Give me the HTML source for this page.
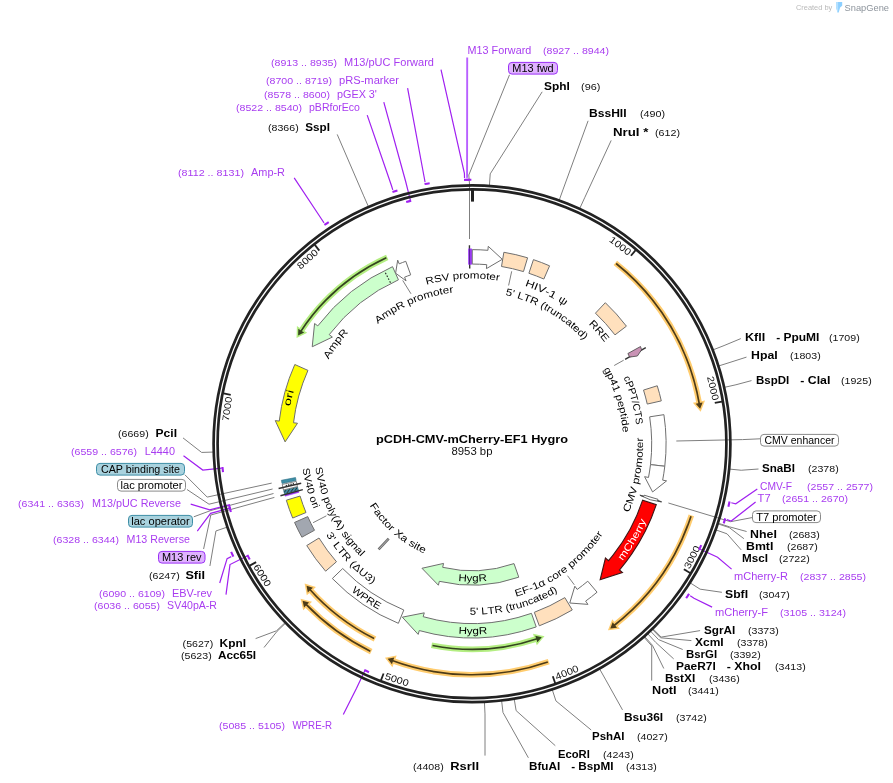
<!DOCTYPE html>
<html><head><meta charset="utf-8"><title>pCDH-CMV-mCherry-EF1 Hygro</title>
<style>
html,body{margin:0;padding:0;background:#fff;}
svg{display:block;font-family:"Liberation Sans",sans-serif;}
</style></head><body>
<svg width="893" height="783" viewBox="0 0 893 783">
<rect width="893" height="783" fill="#fff"/>
<g opacity="0.999">
<polyline points="509.5,74.8 468.8,175 469.5,184 469.5,239" fill="none" stroke="#7f7f7f" stroke-width="1" />
<polyline points="760,438.8 742.5,439.6 676.3,441" fill="none" stroke="#7f7f7f" stroke-width="1" />
<polyline points="752,517.6 730.5,521.7 668.4,503" fill="none" stroke="#7f7f7f" stroke-width="1" />
<polyline points="184.8,474.7 207.2,497.1 271.7,483.1" fill="none" stroke="#7f7f7f" stroke-width="1" />
<polyline points="187,489.5 209,504.2 272.6,489" fill="none" stroke="#7f7f7f" stroke-width="1" />
<polyline points="193.8,516.8 210.8,510.5 273.5,493.5" fill="none" stroke="#7f7f7f" stroke-width="1" />
<polyline points="203.6,549 210.8,515 274.4,497.4" fill="none" stroke="#7f7f7f" stroke-width="1" />
<polyline points="542.2,91.8 490.21,173.86 489.4,185.84" fill="none" stroke="#7f7f7f" stroke-width="1" />
<polyline points="588.1,120.8 563.2,189.09 559.15,200.38" fill="none" stroke="#7f7f7f" stroke-width="1" />
<polyline points="611.2,140.4 584.64,197.82 579.64,208.73" fill="none" stroke="#7f7f7f" stroke-width="1" />
<polyline points="740.8,338.6 724.05,345.57 712.87,349.93" fill="none" stroke="#7f7f7f" stroke-width="1" />
<polyline points="746.5,357.1 729.98,362.4 718.53,366.01" fill="none" stroke="#7f7f7f" stroke-width="1" />
<polyline points="751.5,380.6 735.99,384.76 724.28,387.38" fill="none" stroke="#7f7f7f" stroke-width="1" />
<polyline points="758.5,469 741.2,470.24 729.26,469.06" fill="none" stroke="#7f7f7f" stroke-width="1" />
<polyline points="746.6,531.5 729.43,526.82 718.01,523.13" fill="none" stroke="#7f7f7f" stroke-width="1" />
<polyline points="743.9,538.7 729.2,527.54 717.79,523.82" fill="none" stroke="#7f7f7f" stroke-width="1" />
<polyline points="741.2,549.9 727.06,533.83 715.75,529.83" fill="none" stroke="#7f7f7f" stroke-width="1" />
<polyline points="721.9,592.3 700.09,589.17 689.97,582.72" fill="none" stroke="#7f7f7f" stroke-width="1" />
<polyline points="700.1,630.6 661.16,637.11 652.77,628.53" fill="none" stroke="#7f7f7f" stroke-width="1" />
<polyline points="691.4,640.6 660.48,637.77 652.12,629.16" fill="none" stroke="#7f7f7f" stroke-width="1" />
<polyline points="682.7,649.5 658.57,639.61 650.29,630.92" fill="none" stroke="#7f7f7f" stroke-width="1" />
<polyline points="673.7,658.9 655.66,642.34 647.51,633.53" fill="none" stroke="#7f7f7f" stroke-width="1" />
<polyline points="663.8,668.5 652.43,645.28 644.43,636.34" fill="none" stroke="#7f7f7f" stroke-width="1" />
<polyline points="651.7,680.6 651.72,645.91 643.75,636.94" fill="none" stroke="#7f7f7f" stroke-width="1" />
<polyline points="622.5,709.9 605.34,679.1 599.43,668.66" fill="none" stroke="#7f7f7f" stroke-width="1" />
<polyline points="591.2,730 555.92,700.9 552.2,689.49" fill="none" stroke="#7f7f7f" stroke-width="1" />
<polyline points="555.3,745.7 516.13,710.63 514.17,698.79" fill="none" stroke="#7f7f7f" stroke-width="1" />
<polyline points="528.4,757.8 502.97,712.47 501.6,700.55" fill="none" stroke="#7f7f7f" stroke-width="1" />
<polyline points="485,755.6 485,713.94 484.42,701.95" fill="none" stroke="#7f7f7f" stroke-width="1" />
<polyline points="264,647.5 277.09,631.31 285.74,622.99" fill="none" stroke="#7f7f7f" stroke-width="1" />
<polyline points="255.6,638.6 276.56,630.76 285.23,622.47" fill="none" stroke="#7f7f7f" stroke-width="1" />
<polyline points="209.9,566 215.94,530.96 227.3,527.09" fill="none" stroke="#7f7f7f" stroke-width="1" />
<polyline points="183,437.9 201.64,452.43 213.63,452.05" fill="none" stroke="#7f7f7f" stroke-width="1" />
<polyline points="337.2,134.4 363.69,195.88 368.5,206.88" fill="none" stroke="#7f7f7f" stroke-width="1" />
<polyline points="441,69.7 464.41,173.36 464.54,177.95" fill="none" stroke="#a020f0" stroke-width="1.2" />
<polyline points="467.2,57.5 467.06,173.3 467.15,177.89" fill="none" stroke="#b860ff" stroke-width="1.9" />
<polyline points="757.3,489 735.76,503.76 731.27,502.74" fill="none" stroke="#a020f0" stroke-width="1.2" />
<polyline points="755.6,502 731.23,521.01 726.82,519.7" fill="none" stroke="#a020f0" stroke-width="1.2" />
<polyline points="731.6,569.1 717.55,557.21 700.22,549.2" fill="none" stroke="#a020f0" stroke-width="1.2" />
<polyline points="712.1,607.1 693.98,598.33 690.21,595.7" fill="none" stroke="#a020f0" stroke-width="1.2" />
<polyline points="343.3,714.4 356.52,688.36 364.67,671.09" fill="none" stroke="#a020f0" stroke-width="1.2" />
<polyline points="226,594.7 229.98,564.57 247.07,556.04" fill="none" stroke="#a020f0" stroke-width="1.2" />
<polyline points="219.7,583 227.09,558.59 231.25,556.63" fill="none" stroke="#a020f0" stroke-width="1.2" />
<polyline points="197.3,531.1 210.6,513.34 229.06,508.43" fill="none" stroke="#a020f0" stroke-width="1.2" />
<polyline points="190.7,504.2 209.7,509.85 228.22,505.18" fill="none" stroke="#a020f0" stroke-width="1.2" />
<polyline points="183.5,455.8 202.78,470.05 221.79,468.19" fill="none" stroke="#a020f0" stroke-width="1.2" />
<polyline points="294.2,177.8 321.46,219.01 324.02,222.83" fill="none" stroke="#a020f0" stroke-width="1.2" />
<polyline points="367.2,115.1 391.42,185.53 392.79,189.92" fill="none" stroke="#a020f0" stroke-width="1.2" />
<polyline points="383.8,102.1 405.67,181.51 410.35,200.03" fill="none" stroke="#a020f0" stroke-width="1.2" />
<polyline points="407.6,88.2 424.22,177.5 425.04,182.03" fill="none" stroke="#a020f0" stroke-width="1.2" />
<circle cx="472" cy="443.75" r="258.4" fill="none" stroke="#222" stroke-width="2.7"/>
<circle cx="472" cy="443.75" r="254.4" fill="none" stroke="#222" stroke-width="2.7"/>
<line x1="472.5" y1="189" x2="472.5" y2="201.6" stroke="#222" stroke-width="3"/>
<polyline points="635.66,250.16 630.94,255.73" fill="none" stroke="#222" stroke-width="1.8" />
<text transform="translate(618.29,248.47) rotate(36.84) scale(1.15,1)" font-size="9.6" text-anchor="middle" fill="#111">1000</text>
<polyline points="721.96,401.56 714.77,402.78" fill="none" stroke="#222" stroke-width="1.8" />
<text transform="translate(709.79,389.06) rotate(77.05) scale(1.15,1)" font-size="9.6" text-anchor="middle" fill="#111">2000</text>
<polyline points="690.13,572.91 683.85,569.19" fill="none" stroke="#222" stroke-width="1.8" />
<text transform="translate(695.04,558.66) rotate(297.26) scale(1.15,1)" font-size="9.6" text-anchor="middle" fill="#111">3000</text>
<polyline points="555.2,683.21 552.8,676.31" fill="none" stroke="#222" stroke-width="1.8" />
<text transform="translate(568.15,675.5) rotate(337.47) scale(1.15,1)" font-size="9.6" text-anchor="middle" fill="#111">4000</text>
<polyline points="380.95,680.33 383.57,673.52" fill="none" stroke="#222" stroke-width="1.8" />
<text transform="translate(395.81,682.8) rotate(377.68) scale(1.15,1)" font-size="9.6" text-anchor="middle" fill="#111">5000</text>
<polyline points="249.73,565.64 256.13,562.13" fill="none" stroke="#222" stroke-width="1.8" />
<text transform="translate(259.49,577.12) rotate(417.89) scale(1.15,1)" font-size="9.6" text-anchor="middle" fill="#111">6000</text>
<polyline points="223.56,393.34 230.72,394.79" fill="none" stroke="#222" stroke-width="1.8" />
<text transform="translate(230.43,409.38) rotate(278.1) scale(1.15,1)" font-size="9.6" text-anchor="middle" fill="#111">7000</text>
<polyline points="314.82,244.86 319.34,250.59" fill="none" stroke="#222" stroke-width="1.8" />
<text transform="translate(309.71,261.55) rotate(318.31) scale(1.15,1)" font-size="9.6" text-anchor="middle" fill="#111">8000</text>
<path d="M464.03,179.87 A264,264 0 0 1 469.23,179.76" fill="none" stroke="#a020f0" stroke-width="2.1"/>
<path d="M466.16,179.81 A264,264 0 0 1 471.36,179.75" fill="none" stroke="#a020f0" stroke-width="2.1"/>
<path d="M729.59,501.59 A264,264 0 0 1 728.4,506.65" fill="none" stroke="#a020f0" stroke-width="2.1"/>
<path d="M725.24,518.35 A264,264 0 0 1 723.72,523.33" fill="none" stroke="#a020f0" stroke-width="2.1"/>
<path d="M701.21,545.05 A250.6,250.6 0 0 1 699.06,549.79" fill="none" stroke="#a020f0" stroke-width="2.1"/>
<path d="M689.13,593.93 A264,264 0 0 1 686.13,598.17" fill="none" stroke="#a020f0" stroke-width="2.1"/>
<path d="M368.97,672.19 A250.6,250.6 0 0 1 364.25,670.01" fill="none" stroke="#a020f0" stroke-width="2.1"/>
<path d="M249.73,559.48 A250.6,250.6 0 0 1 247.37,554.85" fill="none" stroke="#a020f0" stroke-width="2.1"/>
<path d="M233.33,556.59 A264,264 0 0 1 231.15,551.86" fill="none" stroke="#a020f0" stroke-width="2.1"/>
<path d="M230.9,512.08 A250.6,250.6 0 0 1 229.53,507.07" fill="none" stroke="#a020f0" stroke-width="2.1"/>
<path d="M230.14,509.37 A250.6,250.6 0 0 1 228.84,504.34" fill="none" stroke="#a020f0" stroke-width="2.1"/>
<path d="M223.02,472.19 A250.6,250.6 0 0 1 222.48,467.01" fill="none" stroke="#a020f0" stroke-width="2.1"/>
<path d="M324.38,224.88 A264,264 0 0 1 328.72,222.02" fill="none" stroke="#a020f0" stroke-width="2.1"/>
<path d="M392.47,192.01 A264,264 0 0 1 397.44,190.5" fill="none" stroke="#a020f0" stroke-width="2.1"/>
<path d="M406.17,201.95 A250.6,250.6 0 0 1 411.2,200.64" fill="none" stroke="#a020f0" stroke-width="2.1"/>
<path d="M424.55,184.05 A264,264 0 0 1 429.67,183.17" fill="none" stroke="#a020f0" stroke-width="2.1"/>
<path d="M615.34,262.86 A230.8,230.8 0 0 1 699.19,403.11" fill="none" stroke="#ffcc6e" stroke-width="5.7"/>
<path d="M700.14,408.83 L702.64,402.49 L699.19,403.11 L695.75,403.72 Z" fill="#ffcc6e" stroke="#ffcc6e" stroke-width="3.0" stroke-linejoin="miter"/>
<path d="M616.12,263.48 A230.8,230.8 0 0 1 699.49,404.82" fill="none" stroke="#4d3b17" stroke-width="1.7"/>
<path d="M700.14,408.83 L702.64,402.49 L699.19,403.11 L695.75,403.72 Z" fill="#4d3b17" stroke="none"/>
<path d="M691.31,515.34 A230.7,230.7 0 0 1 614.86,624.9" fill="none" stroke="#ffcc6e" stroke-width="5.7"/>
<path d="M610.26,628.43 L617.02,627.65 L614.86,624.9 L612.69,622.15 Z" fill="#ffcc6e" stroke="#ffcc6e" stroke-width="3.0" stroke-linejoin="miter"/>
<path d="M691,516.29 A230.7,230.7 0 0 1 613.49,625.97" fill="none" stroke="#4d3b17" stroke-width="1.7"/>
<path d="M610.26,628.43 L617.02,627.65 L614.86,624.9 L612.69,622.15 Z" fill="#4d3b17" stroke="none"/>
<path d="M548.76,661.62 A231,231 0 0 1 393.12,660.87" fill="none" stroke="#ffcc6e" stroke-width="5.7"/>
<path d="M387.69,658.82 L391.93,664.15 L393.12,660.87 L394.32,657.58 Z" fill="#ffcc6e" stroke="#ffcc6e" stroke-width="3.0" stroke-linejoin="miter"/>
<path d="M547.82,661.95 A231,231 0 0 1 391.49,660.26" fill="none" stroke="#4d3b17" stroke-width="1.7"/>
<path d="M387.69,658.82 L391.93,664.15 L393.12,660.87 L394.32,657.58 Z" fill="#4d3b17" stroke="none"/>
<path d="M371.21,651.6 A231,231 0 0 1 306.56,604.97" fill="none" stroke="#ffcc6e" stroke-width="5.7"/>
<path d="M302.56,600.76 L304.05,607.41 L306.56,604.97 L309.07,602.52 Z" fill="#ffcc6e" stroke="#ffcc6e" stroke-width="3.0" stroke-linejoin="miter"/>
<path d="M370.31,651.17 A231,231 0 0 1 305.35,603.71" fill="none" stroke="#4d3b17" stroke-width="1.7"/>
<path d="M302.56,600.76 L304.05,607.41 L306.56,604.97 L309.07,602.52 Z" fill="#4d3b17" stroke="none"/>
<path d="M375.01,638.99 A218,218 0 0 1 310.37,590.04" fill="none" stroke="#ffcc6e" stroke-width="5.7"/>
<path d="M306.54,585.69 L307.78,592.39 L310.37,590.04 L312.97,587.69 Z" fill="#ffcc6e" stroke="#ffcc6e" stroke-width="3.0" stroke-linejoin="miter"/>
<path d="M374.12,638.54 A218,218 0 0 1 309.21,588.74" fill="none" stroke="#4d3b17" stroke-width="1.7"/>
<path d="M306.54,585.69 L307.78,592.39 L310.37,590.04 L312.97,587.69 Z" fill="#4d3b17" stroke="none"/>
<path d="M431.51,645.32 A205.6,205.6 0 0 0 536.32,639.03" fill="none" stroke="#b4ee82" stroke-width="5.7"/>
<path d="M541.8,637.14 L537.41,642.35 L536.32,639.03 L535.22,635.71 Z" fill="#b4ee82" stroke="#b4ee82" stroke-width="3.0" stroke-linejoin="miter"/>
<path d="M432.5,645.52 A205.6,205.6 0 0 0 537.97,638.48" fill="none" stroke="#34441f" stroke-width="1.7"/>
<path d="M541.8,637.14 L537.41,642.35 L536.32,639.03 L535.22,635.71 Z" fill="#34441f" stroke="none"/>
<path d="M387.24,257.31 A204.8,204.8 0 0 0 301.25,330.66" fill="none" stroke="#b4ee82" stroke-width="5.7"/>
<path d="M298.12,335.54 L298.34,328.73 L301.25,330.66 L304.17,332.59 Z" fill="#b4ee82" stroke="#b4ee82" stroke-width="3.0" stroke-linejoin="miter"/>
<path d="M386.33,257.73 A204.8,204.8 0 0 0 300.3,332.12" fill="none" stroke="#34441f" stroke-width="1.7"/>
<path d="M298.12,335.54 L298.34,328.73 L301.25,330.66 L304.17,332.59 Z" fill="#34441f" stroke="none"/>
<polyline points="469.72,268.46 469.42,245.27" fill="none" stroke="#333" stroke-width="1.4" />
<rect x="468.2" y="248.6" width="3.9" height="16" fill="#a23cff"/>
<polyline points="469.6,248.6 469.6,264.6" fill="none" stroke="#4b1a80" stroke-width="0.9" />
<path d="M472.27,249.65 A194.1,194.1 0 0 1 487.92,250.3 L488.25,246.32 L502.3,259.32 L486.41,268.64 L486.74,264.66 A179.7,179.7 0 0 0 472.25,264.05 Z" fill="#fff" stroke="#6e6e6e" stroke-width="1" stroke-linejoin="miter" />
<path d="M503.87,252.28 A194.1,194.1 0 0 1 527.6,257.79 L523.48,271.58 A179.7,179.7 0 0 0 501.5,266.49 Z" fill="#ffe0bd" stroke="#6e6e6e" stroke-width="1" stroke-linejoin="miter" />
<path d="M533.45,259.63 A194.1,194.1 0 0 1 549.59,265.83 L543.84,279.03 A179.7,179.7 0 0 0 528.89,273.29 Z" fill="#ffe0bd" stroke="#6e6e6e" stroke-width="1" stroke-linejoin="miter" />
<path d="M605.33,302.69 A194.1,194.1 0 0 1 626.43,326.17 L614.98,334.89 A179.7,179.7 0 0 0 595.44,313.16 Z" fill="#ffe0bd" stroke="#6e6e6e" stroke-width="1" stroke-linejoin="miter" />
<polyline points="614.2,365.5 623.7,360.2" fill="none" stroke="#7f7f7f" stroke-width="1" />
<polyline points="625.1,359.4 645.8,347.6" fill="none" stroke="#333" stroke-width="1.4" />
<polygon points="627.9,353.5 640.5,346.5 641.6,349.8 637.4,356 629.6,357.1" fill="#c993b5" stroke="#444" stroke-width="0.8"/>
<path d="M657.24,385.77 A194.1,194.1 0 0 1 661.31,400.89 L647.26,404.07 A179.7,179.7 0 0 0 643.5,390.07 Z" fill="#ffe0bd" stroke="#6e6e6e" stroke-width="1" stroke-linejoin="miter" />
<path d="M663.91,414.67 A194.1,194.1 0 0 1 664.79,466.28 L650.49,464.61 A179.7,179.7 0 0 0 649.67,416.83 Z" fill="#fff" stroke="#6e6e6e" stroke-width="1" stroke-linejoin="miter" />
<path d="M664.79,466.28 A194.1,194.1 0 0 1 662.66,480.14 L666.59,480.89 L652.58,491.96 L644.58,476.69 L648.51,477.44 A179.7,179.7 0 0 0 650.49,464.61 Z" fill="#fff" stroke="#6e6e6e" stroke-width="1" stroke-linejoin="miter" />
<polyline points="639.83,495.06 661.64,501.72" fill="none" stroke="#444" stroke-width="1" />
<path d="M657.97,499.32 A194.1,194.1 0 0 1 657.55,500.74 L661.37,501.91 L650.31,499.77 L639.96,495.33 L643.78,496.51 A179.7,179.7 0 0 0 644.18,495.2 Z" fill="#fff" stroke="#444" stroke-width="0.8" stroke-linejoin="miter" />
<path d="M656.3,504.65 A194.1,194.1 0 0 1 619.41,570.02 L622.45,572.62 L600.15,579.8 L605.44,558.05 L608.48,560.65 A179.7,179.7 0 0 0 642.63,500.13 Z" fill="#ff0000" stroke="#3d1515" stroke-width="1.1" stroke-linejoin="miter" />
<path d="M597.05,592.2 A194.1,194.1 0 0 1 585.61,601.12 L587.96,604.37 L569.78,603.03 L574.84,586.21 L577.19,589.45 A179.7,179.7 0 0 0 587.77,581.19 Z" fill="#fff" stroke="#6e6e6e" stroke-width="1" stroke-linejoin="miter" />
<path d="M572.27,609.95 A194.1,194.1 0 0 1 539.3,625.81 L534.3,612.3 A179.7,179.7 0 0 0 564.83,597.62 Z" fill="#ffe0bd" stroke="#6e6e6e" stroke-width="1" stroke-linejoin="miter" />
<path d="M536.22,626.92 A194.1,194.1 0 0 1 419.27,630.55 L418.18,634.4 L402.31,617.17 L424.27,612.84 L423.18,616.69 A179.7,179.7 0 0 0 531.46,613.33 Z" fill="#ccffcc" stroke="#6e6e6e" stroke-width="1" stroke-linejoin="miter" />
<path d="M518.78,577.19 A141.4,141.4 0 0 1 439.34,581.33 L438.41,585.22 L421.96,568.27 L443.59,563.42 L442.66,567.32 A127,127 0 0 0 514.02,563.6 Z" fill="#ccffcc" stroke="#6e6e6e" stroke-width="1" stroke-linejoin="miter" />
<path d="M398.36,623.34 A194.1,194.1 0 0 1 332.33,578.53 L342.69,568.53 A179.7,179.7 0 0 0 403.82,610.01 Z" fill="#fff" stroke="#6e6e6e" stroke-width="1" stroke-linejoin="miter" />
<path d="M325.61,571.2 A194.1,194.1 0 0 1 306.74,545.56 L319,538 A179.7,179.7 0 0 0 336.47,561.75 Z" fill="#ffe0bd" stroke="#6e6e6e" stroke-width="1" stroke-linejoin="miter" />
<path d="M301.88,537.2 A194.1,194.1 0 0 1 294.56,522.43 L307.73,516.6 A179.7,179.7 0 0 0 314.5,530.27 Z" fill="#a2a7b0" stroke="#6e6e6e" stroke-width="1" stroke-linejoin="miter" />
<path d="M292.68,518.05 A194.1,194.1 0 0 1 286.3,500.23 L300.08,496.04 A179.7,179.7 0 0 0 305.99,512.54 Z" fill="#ffff00" stroke="#6e6e6e" stroke-width="1" stroke-linejoin="miter" />
<defs><pattern id="hatch" width="2.6" height="2.6" patternUnits="userSpaceOnUse" patternTransform="rotate(35)"><rect width="2.6" height="2.6" fill="#3d8ea6"/><line x1="0" y1="0" x2="0" y2="2.6" stroke="#222" stroke-width="1.5"/></pattern></defs>
<path d="M285.15,496.31 A194.1,194.1 0 0 1 284.68,494.61 L298.58,490.83 A179.7,179.7 0 0 0 299.01,492.41 Z" fill="#9a30f5" stroke="#9a30f5" stroke-width="0.3" stroke-linejoin="miter" />
<path d="M284.5,493.95 A194.1,194.1 0 0 1 283.62,490.52 L297.59,487.05 A179.7,179.7 0 0 0 298.41,490.22 Z" fill="url(#hatch)" stroke="#2f6f84" stroke-width="0.6" stroke-linejoin="miter" />
<polyline points="302.82,489.68 280.43,495.76" fill="none" stroke="#333" stroke-width="1.4" />
<path d="M283.49,489.99 A194.1,194.1 0 0 1 282.21,484.41 L296.29,481.4 A179.7,179.7 0 0 0 297.47,486.56 Z" fill="#fff" stroke="#555" stroke-width="0.7" stroke-linejoin="miter" />
<path d="M294.06,483.84 L285.28,485.82" fill="none" stroke="#333" stroke-width="1.6" stroke-dasharray="1.3,1.1"/>
<polyline points="301.21,483.24 278.6,488.46" fill="none" stroke="#333" stroke-width="1.4" />
<path d="M282.01,483.48 A194.1,194.1 0 0 1 281.37,480.28 L295.51,477.57 A179.7,179.7 0 0 0 296.11,480.53 Z" fill="#3d8ea6" stroke="#2d6f85" stroke-width="0.6" stroke-linejoin="miter" />
<path d="M294.81,364.51 A194.1,194.1 0 0 0 279.23,421.09 L275.25,420.62 L285.11,441.88 L297.5,423.24 L293.53,422.77 A179.7,179.7 0 0 1 307.96,370.38 Z" fill="#ffff00" stroke="#6e6e6e" stroke-width="1" stroke-linejoin="miter" />
<path d="M392.54,266.66 A194.1,194.1 0 0 0 317.77,325.9 L314.59,323.47 L312.22,346.78 L332.39,337.07 L329.21,334.64 A179.7,179.7 0 0 1 398.43,279.8 Z" fill="#ccffcc" stroke="#6e6e6e" stroke-width="1" stroke-linejoin="miter" />
<polyline points="390.45,282.72 384.66,271.3" fill="none" stroke="#222" stroke-width="1.1" stroke-dasharray="1.6,1.6"/>
<path d="M405.79,261.29 A194.1,194.1 0 0 0 399.18,263.83 L397.68,260.12 L395.61,273.18 L406.08,280.88 L404.58,277.18 A179.7,179.7 0 0 1 410.7,274.83 Z" fill="#fff" stroke="#6e6e6e" stroke-width="1" stroke-linejoin="miter" />
<polyline points="378.6,549.4 388.7,538.7" fill="none" stroke="#6a6a6a" stroke-width="2.6" />
<polyline points="379.1,548.9 388.2,539.2" fill="none" stroke="#c4c4c4" stroke-width="0.8" />
<polyline points="511.7,271.3 508.6,285.5" fill="none" stroke="#7f7f7f" stroke-width="1" />
<polyline points="313.1,522.7 326.4,515.8" fill="none" stroke="#7f7f7f" stroke-width="1" />
<polyline points="567.5,575.7 574.3,584.8" fill="none" stroke="#7f7f7f" stroke-width="1" />
<polyline points="402.7,280.4 411,293.8" fill="none" stroke="#7f7f7f" stroke-width="1" />
<text transform="translate(430.61,283.82) rotate(345.49) scale(1.1601,1)" font-size="10" text-anchor="middle" fill="#000">R</text>
<text transform="translate(438.46,281.99) rotate(348.28) scale(1.1601,1)" font-size="10" text-anchor="middle" fill="#000">S</text>
<text transform="translate(446.07,280.6) rotate(350.97) scale(1.1601,1)" font-size="10" text-anchor="middle" fill="#000">V</text>
<text transform="translate(456.3,279.3) rotate(354.55) scale(1.1601,1)" font-size="10" text-anchor="middle" fill="#000">p</text>
<text transform="translate(461.44,278.89) rotate(356.34) scale(1.1601,1)" font-size="10" text-anchor="middle" fill="#000">r</text>
<text transform="translate(466.6,278.64) rotate(358.13) scale(1.1601,1)" font-size="10" text-anchor="middle" fill="#000">o</text>
<text transform="translate(474.65,278.57) rotate(360.92) scale(1.1601,1)" font-size="10" text-anchor="middle" fill="#000">m</text>
<text transform="translate(482.7,278.9) rotate(363.71) scale(1.1601,1)" font-size="10" text-anchor="middle" fill="#000">o</text>
<text transform="translate(487.52,279.28) rotate(365.39) scale(1.1601,1)" font-size="10" text-anchor="middle" fill="#000">t</text>
<text transform="translate(492.33,279.81) rotate(367.07) scale(1.1601,1)" font-size="10" text-anchor="middle" fill="#000">e</text>
<text transform="translate(497.44,280.52) rotate(368.86) scale(1.1601,1)" font-size="10" text-anchor="middle" fill="#000">r</text>
<text transform="translate(380.95,321.54) rotate(323.31) scale(1.1760,1)" font-size="10" text-anchor="middle" fill="#000">A</text>
<text transform="translate(388.17,316.47) rotate(326.63) scale(1.1760,1)" font-size="10" text-anchor="middle" fill="#000">m</text>
<text transform="translate(395.11,312.17) rotate(329.7) scale(1.1760,1)" font-size="10" text-anchor="middle" fill="#000">p</text>
<text transform="translate(401.69,308.54) rotate(332.53) scale(1.1760,1)" font-size="10" text-anchor="middle" fill="#000">R</text>
<text transform="translate(411.43,303.9) rotate(336.58) scale(1.1760,1)" font-size="10" text-anchor="middle" fill="#000">p</text>
<text transform="translate(416.26,301.91) rotate(338.55) scale(1.1760,1)" font-size="10" text-anchor="middle" fill="#000">r</text>
<text transform="translate(421.16,300.08) rotate(340.51) scale(1.1760,1)" font-size="10" text-anchor="middle" fill="#000">o</text>
<text transform="translate(428.93,297.56) rotate(343.58) scale(1.1760,1)" font-size="10" text-anchor="middle" fill="#000">m</text>
<text transform="translate(436.82,295.46) rotate(346.66) scale(1.1760,1)" font-size="10" text-anchor="middle" fill="#000">o</text>
<text transform="translate(441.61,294.41) rotate(348.5) scale(1.1760,1)" font-size="10" text-anchor="middle" fill="#000">t</text>
<text transform="translate(446.43,293.51) rotate(350.34) scale(1.1760,1)" font-size="10" text-anchor="middle" fill="#000">e</text>
<text transform="translate(451.6,292.72) rotate(352.31) scale(1.1760,1)" font-size="10" text-anchor="middle" fill="#000">r</text>
<text transform="translate(330.62,355.99) rotate(301.83) scale(1.2129,1)" font-size="10" text-anchor="middle" fill="#000">A</text>
<text transform="translate(335.63,348.4) rotate(304.96) scale(1.2129,1)" font-size="10" text-anchor="middle" fill="#000">m</text>
<text transform="translate(340.63,341.62) rotate(307.86) scale(1.2129,1)" font-size="10" text-anchor="middle" fill="#000">p</text>
<text transform="translate(345.53,335.61) rotate(310.53) scale(1.2129,1)" font-size="10" text-anchor="middle" fill="#000">R</text>
<text transform="translate(290.83,402.55) rotate(282.81) scale(1.4396,1)" font-size="10" text-anchor="middle" fill="#000">o</text>
<text transform="translate(292.35,396.34) rotate(284.78) scale(1.4396,1)" font-size="10" text-anchor="middle" fill="#000">r</text>
<text transform="translate(293.41,392.48) rotate(286.02) scale(1.4396,1)" font-size="10" text-anchor="middle" fill="#000">i</text>
<text transform="translate(528.97,287.4) rotate(20.02) scale(1.2743,1)" font-size="10" text-anchor="middle" fill="#000">H</text>
<text transform="translate(534.91,289.7) rotate(22.21) scale(1.2743,1)" font-size="10" text-anchor="middle" fill="#000">I</text>
<text transform="translate(540.44,292.08) rotate(24.29) scale(1.2743,1)" font-size="10" text-anchor="middle" fill="#000">V</text>
<text transform="translate(546.2,294.81) rotate(26.48) scale(1.2743,1)" font-size="10" text-anchor="middle" fill="#000">-</text>
<text transform="translate(551.22,297.42) rotate(28.43) scale(1.2743,1)" font-size="10" text-anchor="middle" fill="#000">1</text>
<text transform="translate(561.25,303.31) rotate(32.43) scale(1.2743,1)" font-size="10" text-anchor="middle" fill="#000">ψ</text>
<text transform="translate(508.42,295.77) rotate(13.83) scale(1.1485,1)" font-size="10" text-anchor="middle" fill="#000">5</text>
<text transform="translate(512.57,296.85) rotate(15.44) scale(1.1485,1)" font-size="10" text-anchor="middle" fill="#000">'</text>
<text transform="translate(519.73,299.02) rotate(18.25) scale(1.1485,1)" font-size="10" text-anchor="middle" fill="#000">L</text>
<text transform="translate(526.05,301.26) rotate(20.77) scale(1.1485,1)" font-size="10" text-anchor="middle" fill="#000">T</text>
<text transform="translate(533.13,304.15) rotate(23.65) scale(1.1485,1)" font-size="10" text-anchor="middle" fill="#000">R</text>
<text transform="translate(541.49,308.11) rotate(27.13) scale(1.1485,1)" font-size="10" text-anchor="middle" fill="#000">(</text>
<text transform="translate(544.59,309.75) rotate(28.45) scale(1.1485,1)" font-size="10" text-anchor="middle" fill="#000">t</text>
<text transform="translate(547.66,311.46) rotate(29.76) scale(1.1485,1)" font-size="10" text-anchor="middle" fill="#000">r</text>
<text transform="translate(552.05,314.06) rotate(31.68) scale(1.1485,1)" font-size="10" text-anchor="middle" fill="#000">u</text>
<text transform="translate(557.41,317.53) rotate(34.09) scale(1.1485,1)" font-size="10" text-anchor="middle" fill="#000">n</text>
<text transform="translate(562.36,321.03) rotate(36.37) scale(1.1485,1)" font-size="10" text-anchor="middle" fill="#000">c</text>
<text transform="translate(567.18,324.72) rotate(38.65) scale(1.1485,1)" font-size="10" text-anchor="middle" fill="#000">a</text>
<text transform="translate(570.87,327.77) rotate(40.45) scale(1.1485,1)" font-size="10" text-anchor="middle" fill="#000">t</text>
<text transform="translate(574.46,330.94) rotate(42.25) scale(1.1485,1)" font-size="10" text-anchor="middle" fill="#000">e</text>
<text transform="translate(579.1,335.33) rotate(44.65) scale(1.1485,1)" font-size="10" text-anchor="middle" fill="#000">d</text>
<text transform="translate(582.67,338.98) rotate(46.57) scale(1.1485,1)" font-size="10" text-anchor="middle" fill="#000">)</text>
<text transform="translate(591.34,327.07) rotate(45.65) scale(1.1604,1)" font-size="10" text-anchor="middle" fill="#000">R</text>
<text transform="translate(597.04,333.21) rotate(48.52) scale(1.1604,1)" font-size="10" text-anchor="middle" fill="#000">R</text>
<text transform="translate(602.23,339.37) rotate(51.29) scale(1.1604,1)" font-size="10" text-anchor="middle" fill="#000">E</text>
<text transform="translate(624.52,380.01) rotate(67.32) scale(1.0375,1)" font-size="10" text-anchor="middle" fill="#000">c</text>
<text transform="translate(626.75,385.64) rotate(69.42) scale(1.0375,1)" font-size="10" text-anchor="middle" fill="#000">P</text>
<text transform="translate(629.04,392.16) rotate(71.82) scale(1.0375,1)" font-size="10" text-anchor="middle" fill="#000">P</text>
<text transform="translate(630.99,398.5) rotate(74.11) scale(1.0375,1)" font-size="10" text-anchor="middle" fill="#000">T</text>
<text transform="translate(632.19,402.95) rotate(75.71) scale(1.0375,1)" font-size="10" text-anchor="middle" fill="#000">/</text>
<text transform="translate(633.39,408) rotate(77.51) scale(1.0375,1)" font-size="10" text-anchor="middle" fill="#000">C</text>
<text transform="translate(634.74,414.78) rotate(79.91) scale(1.0375,1)" font-size="10" text-anchor="middle" fill="#000">T</text>
<text transform="translate(635.77,421.33) rotate(82.2) scale(1.0375,1)" font-size="10" text-anchor="middle" fill="#000">S</text>
<text transform="translate(605.08,371.98) rotate(61.66) scale(1.1550,1)" font-size="10" text-anchor="middle" fill="#000">g</text>
<text transform="translate(608.01,377.7) rotate(64.1) scale(1.1550,1)" font-size="10" text-anchor="middle" fill="#000">p</text>
<text transform="translate(610.69,383.53) rotate(66.53) scale(1.1550,1)" font-size="10" text-anchor="middle" fill="#000">4</text>
<text transform="translate(613.12,389.48) rotate(68.97) scale(1.1550,1)" font-size="10" text-anchor="middle" fill="#000">1</text>
<text transform="translate(616.29,398.57) rotate(72.62) scale(1.1550,1)" font-size="10" text-anchor="middle" fill="#000">p</text>
<text transform="translate(618.08,404.74) rotate(75.05) scale(1.1550,1)" font-size="10" text-anchor="middle" fill="#000">e</text>
<text transform="translate(619.61,410.98) rotate(77.48) scale(1.1550,1)" font-size="10" text-anchor="middle" fill="#000">p</text>
<text transform="translate(620.58,415.7) rotate(79.31) scale(1.1550,1)" font-size="10" text-anchor="middle" fill="#000">t</text>
<text transform="translate(621.08,418.54) rotate(80.4) scale(1.1550,1)" font-size="10" text-anchor="middle" fill="#000">i</text>
<text transform="translate(621.77,422.99) rotate(82.11) scale(1.1550,1)" font-size="10" text-anchor="middle" fill="#000">d</text>
<text transform="translate(622.51,429.37) rotate(84.54) scale(1.1550,1)" font-size="10" text-anchor="middle" fill="#000">e</text>
<text transform="translate(630.3,508.69) rotate(292.31) scale(1.1843,1)" font-size="10" text-anchor="middle" fill="#000">C</text>
<text transform="translate(633.56,500.08) rotate(289.22) scale(1.1843,1)" font-size="10" text-anchor="middle" fill="#000">M</text>
<text transform="translate(636.27,491.62) rotate(286.25) scale(1.1843,1)" font-size="10" text-anchor="middle" fill="#000">V</text>
<text transform="translate(638.9,481.43) rotate(282.72) scale(1.1843,1)" font-size="10" text-anchor="middle" fill="#000">p</text>
<text transform="translate(639.98,476.27) rotate(280.96) scale(1.1843,1)" font-size="10" text-anchor="middle" fill="#000">r</text>
<text transform="translate(640.9,471.09) rotate(279.19) scale(1.1843,1)" font-size="10" text-anchor="middle" fill="#000">o</text>
<text transform="translate(642.02,462.94) rotate(276.44) scale(1.1843,1)" font-size="10" text-anchor="middle" fill="#000">m</text>
<text transform="translate(642.75,454.75) rotate(273.69) scale(1.1843,1)" font-size="10" text-anchor="middle" fill="#000">o</text>
<text transform="translate(642.99,449.82) rotate(272.03) scale(1.1843,1)" font-size="10" text-anchor="middle" fill="#000">t</text>
<text transform="translate(643.1,444.88) rotate(270.38) scale(1.1843,1)" font-size="10" text-anchor="middle" fill="#000">e</text>
<text transform="translate(643.05,439.61) rotate(268.61) scale(1.1843,1)" font-size="10" text-anchor="middle" fill="#000">r</text>
<text transform="translate(625.41,556.86) rotate(306.4) scale(1.2260,1)" font-size="10" text-anchor="middle" fill="#fff">m</text>
<text transform="translate(630.88,549.05) rotate(303.53) scale(1.2260,1)" font-size="10" text-anchor="middle" fill="#fff">C</text>
<text transform="translate(635.07,542.43) rotate(301.18) scale(1.2260,1)" font-size="10" text-anchor="middle" fill="#fff">h</text>
<text transform="translate(638.49,536.53) rotate(299.13) scale(1.2260,1)" font-size="10" text-anchor="middle" fill="#fff">e</text>
<text transform="translate(641.08,531.73) rotate(297.49) scale(1.2260,1)" font-size="10" text-anchor="middle" fill="#fff">r</text>
<text transform="translate(642.92,528.09) rotate(296.26) scale(1.2260,1)" font-size="10" text-anchor="middle" fill="#fff">r</text>
<text transform="translate(645.12,523.48) rotate(294.73) scale(1.2260,1)" font-size="10" text-anchor="middle" fill="#fff">y</text>
<text transform="translate(519.77,595.51) rotate(342.53) scale(1.1841,1)" font-size="10" text-anchor="middle" fill="#000">E</text>
<text transform="translate(526.93,593.07) rotate(339.8) scale(1.1841,1)" font-size="10" text-anchor="middle" fill="#000">F</text>
<text transform="translate(532.14,591.05) rotate(337.79) scale(1.1841,1)" font-size="10" text-anchor="middle" fill="#000">-</text>
<text transform="translate(536.98,588.98) rotate(335.9) scale(1.1841,1)" font-size="10" text-anchor="middle" fill="#000">1</text>
<text transform="translate(543.05,586.11) rotate(333.48) scale(1.1841,1)" font-size="10" text-anchor="middle" fill="#000">α</text>
<text transform="translate(551.57,581.53) rotate(329.99) scale(1.1841,1)" font-size="10" text-anchor="middle" fill="#000">c</text>
<text transform="translate(556.92,578.29) rotate(327.74) scale(1.1841,1)" font-size="10" text-anchor="middle" fill="#000">o</text>
<text transform="translate(561.32,575.41) rotate(325.85) scale(1.1841,1)" font-size="10" text-anchor="middle" fill="#000">r</text>
<text transform="translate(565.63,572.38) rotate(323.95) scale(1.1841,1)" font-size="10" text-anchor="middle" fill="#000">e</text>
<text transform="translate(573.43,566.33) rotate(320.39) scale(1.1841,1)" font-size="10" text-anchor="middle" fill="#000">p</text>
<text transform="translate(577.43,562.91) rotate(318.5) scale(1.1841,1)" font-size="10" text-anchor="middle" fill="#000">r</text>
<text transform="translate(581.31,559.35) rotate(316.6) scale(1.1841,1)" font-size="10" text-anchor="middle" fill="#000">o</text>
<text transform="translate(587.14,553.55) rotate(313.64) scale(1.1841,1)" font-size="10" text-anchor="middle" fill="#000">m</text>
<text transform="translate(592.66,547.45) rotate(310.68) scale(1.1841,1)" font-size="10" text-anchor="middle" fill="#000">o</text>
<text transform="translate(595.82,543.66) rotate(308.9) scale(1.1841,1)" font-size="10" text-anchor="middle" fill="#000">t</text>
<text transform="translate(598.86,539.77) rotate(307.12) scale(1.1841,1)" font-size="10" text-anchor="middle" fill="#000">e</text>
<text transform="translate(601.97,535.52) rotate(305.23) scale(1.1841,1)" font-size="10" text-anchor="middle" fill="#000">r</text>
<text transform="translate(472.98,614.85) rotate(359.67) scale(1.1485,1)" font-size="10" text-anchor="middle" fill="#000">5</text>
<text transform="translate(477.27,614.77) rotate(358.23) scale(1.1485,1)" font-size="10" text-anchor="middle" fill="#000">'</text>
<text transform="translate(484.74,614.37) rotate(355.73) scale(1.1485,1)" font-size="10" text-anchor="middle" fill="#000">L</text>
<text transform="translate(491.41,613.75) rotate(353.48) scale(1.1485,1)" font-size="10" text-anchor="middle" fill="#000">T</text>
<text transform="translate(499,612.71) rotate(350.92) scale(1.1485,1)" font-size="10" text-anchor="middle" fill="#000">R</text>
<text transform="translate(508.09,611) rotate(347.82) scale(1.1485,1)" font-size="10" text-anchor="middle" fill="#000">(</text>
<text transform="translate(511.51,610.23) rotate(346.65) scale(1.1485,1)" font-size="10" text-anchor="middle" fill="#000">t</text>
<text transform="translate(514.91,609.38) rotate(345.47) scale(1.1485,1)" font-size="10" text-anchor="middle" fill="#000">r</text>
<text transform="translate(519.84,608.03) rotate(343.76) scale(1.1485,1)" font-size="10" text-anchor="middle" fill="#000">u</text>
<text transform="translate(525.94,606.13) rotate(341.63) scale(1.1485,1)" font-size="10" text-anchor="middle" fill="#000">n</text>
<text transform="translate(531.66,604.11) rotate(339.59) scale(1.1485,1)" font-size="10" text-anchor="middle" fill="#000">c</text>
<text transform="translate(537.3,601.9) rotate(337.56) scale(1.1485,1)" font-size="10" text-anchor="middle" fill="#000">a</text>
<text transform="translate(541.7,600.01) rotate(335.96) scale(1.1485,1)" font-size="10" text-anchor="middle" fill="#000">t</text>
<text transform="translate(546.05,598) rotate(334.36) scale(1.1485,1)" font-size="10" text-anchor="middle" fill="#000">e</text>
<text transform="translate(551.76,595.12) rotate(332.22) scale(1.1485,1)" font-size="10" text-anchor="middle" fill="#000">d</text>
<text transform="translate(556.24,592.68) rotate(330.51) scale(1.1485,1)" font-size="10" text-anchor="middle" fill="#000">)</text>
<text transform="translate(462.56,634.02) rotate(362.84) scale(1.1597,1)" font-size="10" text-anchor="middle" fill="#000">H</text>
<text transform="translate(469.64,634.24) rotate(360.71) scale(1.1597,1)" font-size="10" text-anchor="middle" fill="#000">y</text>
<text transform="translate(475.77,634.21) rotate(358.87) scale(1.1597,1)" font-size="10" text-anchor="middle" fill="#000">g</text>
<text transform="translate(483.17,633.92) rotate(356.64) scale(1.1597,1)" font-size="10" text-anchor="middle" fill="#000">R</text>
<text transform="translate(462.32,581.21) rotate(364.03) scale(1.1597,1)" font-size="10" text-anchor="middle" fill="#000">H</text>
<text transform="translate(469.4,581.53) rotate(361.08) scale(1.1597,1)" font-size="10" text-anchor="middle" fill="#000">y</text>
<text transform="translate(475.53,581.5) rotate(358.53) scale(1.1597,1)" font-size="10" text-anchor="middle" fill="#000">g</text>
<text transform="translate(482.93,581.12) rotate(355.45) scale(1.1597,1)" font-size="10" text-anchor="middle" fill="#000">R</text>
<text transform="translate(355.45,594.44) rotate(397.72) scale(1.1000,1)" font-size="10" text-anchor="middle" fill="#000">W</text>
<text transform="translate(362.58,599.69) rotate(395.06) scale(1.1000,1)" font-size="10" text-anchor="middle" fill="#000">P</text>
<text transform="translate(368.92,603.95) rotate(392.76) scale(1.1000,1)" font-size="10" text-anchor="middle" fill="#000">R</text>
<text transform="translate(375.43,607.96) rotate(390.46) scale(1.1000,1)" font-size="10" text-anchor="middle" fill="#000">E</text>
<text transform="translate(371.51,508.6) rotate(417.17) scale(1.1995,1)" font-size="10" text-anchor="middle" fill="#000">F</text>
<text transform="translate(375.47,514.37) rotate(413.81) scale(1.1995,1)" font-size="10" text-anchor="middle" fill="#000">a</text>
<text transform="translate(379.35,519.38) rotate(410.78) scale(1.1995,1)" font-size="10" text-anchor="middle" fill="#000">c</text>
<text transform="translate(382.37,522.93) rotate(408.54) scale(1.1995,1)" font-size="10" text-anchor="middle" fill="#000">t</text>
<text transform="translate(385.76,526.61) rotate(406.15) scale(1.1995,1)" font-size="10" text-anchor="middle" fill="#000">o</text>
<text transform="translate(389.53,530.37) rotate(403.59) scale(1.1995,1)" font-size="10" text-anchor="middle" fill="#000">r</text>
<text transform="translate(396.54,536.54) rotate(399.12) scale(1.1995,1)" font-size="10" text-anchor="middle" fill="#000">X</text>
<text transform="translate(402.37,540.99) rotate(395.61) scale(1.1995,1)" font-size="10" text-anchor="middle" fill="#000">a</text>
<text transform="translate(410.44,546.29) rotate(390.98) scale(1.1995,1)" font-size="10" text-anchor="middle" fill="#000">s</text>
<text transform="translate(414.2,548.45) rotate(388.9) scale(1.1995,1)" font-size="10" text-anchor="middle" fill="#000">i</text>
<text transform="translate(416.84,549.87) rotate(387.46) scale(1.1995,1)" font-size="10" text-anchor="middle" fill="#000">t</text>
<text transform="translate(421.33,552.08) rotate(385.07) scale(1.1995,1)" font-size="10" text-anchor="middle" fill="#000">e</text>
<text transform="translate(327.75,537.61) rotate(416.95) scale(1.1819,1)" font-size="10" text-anchor="middle" fill="#000">3</text>
<text transform="translate(330.2,541.28) rotate(415.48) scale(1.1819,1)" font-size="10" text-anchor="middle" fill="#000">'</text>
<text transform="translate(334.71,547.52) rotate(412.92) scale(1.1819,1)" font-size="10" text-anchor="middle" fill="#000">L</text>
<text transform="translate(338.97,552.94) rotate(410.62) scale(1.1819,1)" font-size="10" text-anchor="middle" fill="#000">T</text>
<text transform="translate(344.11,558.91) rotate(408) scale(1.1819,1)" font-size="10" text-anchor="middle" fill="#000">R</text>
<text transform="translate(350.67,565.81) rotate(404.83) scale(1.1819,1)" font-size="10" text-anchor="middle" fill="#000">(</text>
<text transform="translate(354.94,569.9) rotate(402.86) scale(1.1819,1)" font-size="10" text-anchor="middle" fill="#000">Δ</text>
<text transform="translate(361.09,575.35) rotate(400.12) scale(1.1819,1)" font-size="10" text-anchor="middle" fill="#000">U</text>
<text transform="translate(366.97,580.09) rotate(397.61) scale(1.1819,1)" font-size="10" text-anchor="middle" fill="#000">3</text>
<text transform="translate(371.18,583.23) rotate(395.86) scale(1.1819,1)" font-size="10" text-anchor="middle" fill="#000">)</text>
<text transform="translate(315.82,471.36) rotate(439.97) scale(1.1614,1)" font-size="10" text-anchor="middle" fill="#000">S</text>
<text transform="translate(317.36,478.95) rotate(437.18) scale(1.1614,1)" font-size="10" text-anchor="middle" fill="#000">V</text>
<text transform="translate(319.09,485.84) rotate(434.61) scale(1.1614,1)" font-size="10" text-anchor="middle" fill="#000">4</text>
<text transform="translate(320.93,492.03) rotate(432.28) scale(1.1614,1)" font-size="10" text-anchor="middle" fill="#000">0</text>
<text transform="translate(324.16,501.16) rotate(428.78) scale(1.1614,1)" font-size="10" text-anchor="middle" fill="#000">p</text>
<text transform="translate(326.62,507.14) rotate(426.44) scale(1.1614,1)" font-size="10" text-anchor="middle" fill="#000">o</text>
<text transform="translate(328.48,511.25) rotate(424.81) scale(1.1614,1)" font-size="10" text-anchor="middle" fill="#000">l</text>
<text transform="translate(330.32,515.02) rotate(423.3) scale(1.1614,1)" font-size="10" text-anchor="middle" fill="#000">y</text>
<text transform="translate(332.56,519.31) rotate(421.55) scale(1.1614,1)" font-size="10" text-anchor="middle" fill="#000">(</text>
<text transform="translate(335.42,524.37) rotate(419.45) scale(1.1614,1)" font-size="10" text-anchor="middle" fill="#000">A</text>
<text transform="translate(338.46,529.31) rotate(417.35) scale(1.1614,1)" font-size="10" text-anchor="middle" fill="#000">)</text>
<text transform="translate(342.98,535.99) rotate(414.44) scale(1.1614,1)" font-size="10" text-anchor="middle" fill="#000">s</text>
<text transform="translate(345.46,539.37) rotate(412.92) scale(1.1614,1)" font-size="10" text-anchor="middle" fill="#000">i</text>
<text transform="translate(348.24,542.93) rotate(411.29) scale(1.1614,1)" font-size="10" text-anchor="middle" fill="#000">g</text>
<text transform="translate(352.38,547.89) rotate(408.96) scale(1.1614,1)" font-size="10" text-anchor="middle" fill="#000">n</text>
<text transform="translate(356.72,552.67) rotate(406.62) scale(1.1614,1)" font-size="10" text-anchor="middle" fill="#000">a</text>
<text transform="translate(359.87,555.92) rotate(404.99) scale(1.1614,1)" font-size="10" text-anchor="middle" fill="#000">l</text>
<text transform="translate(303.05,472.04) rotate(440.49) scale(1.1028,1)" font-size="10" text-anchor="middle" fill="#000">S</text>
<text transform="translate(304.42,479.27) rotate(438.03) scale(1.1028,1)" font-size="10" text-anchor="middle" fill="#000">V</text>
<text transform="translate(305.95,485.84) rotate(435.78) scale(1.1028,1)" font-size="10" text-anchor="middle" fill="#000">4</text>
<text transform="translate(307.56,491.75) rotate(433.73) scale(1.1028,1)" font-size="10" text-anchor="middle" fill="#000">0</text>
<text transform="translate(310.38,500.51) rotate(430.65) scale(1.1028,1)" font-size="10" text-anchor="middle" fill="#000">o</text>
<text transform="translate(312.07,505.11) rotate(429.01) scale(1.1028,1)" font-size="10" text-anchor="middle" fill="#000">r</text>
<text transform="translate(313.19,507.96) rotate(427.99) scale(1.1028,1)" font-size="10" text-anchor="middle" fill="#000">i</text>
<text transform="translate(544,90) scale(1.1941,1)" font-size="10" font-weight="bold" fill="#000" xml:space="preserve">SphI</text>
<text transform="translate(581,90) scale(1.1989,1)" font-size="9.1" fill="#111" xml:space="preserve">(96)</text>
<text transform="translate(589,116.6) scale(1.2083,1)" font-size="10" font-weight="bold" fill="#000" xml:space="preserve">BssHII</text>
<text transform="translate(640,116.6) scale(1.1797,1)" font-size="9.1" fill="#111" xml:space="preserve">(490)</text>
<text transform="translate(613,135.6) scale(1.3294,1)" font-size="10" font-weight="bold" fill="#000" xml:space="preserve">NruI *</text>
<text transform="translate(655,135.6) scale(1.1797,1)" font-size="9.1" fill="#111" xml:space="preserve">(612)</text>
<text transform="translate(745,341) scale(1.2531,1)" font-size="10" font-weight="bold" fill="#000" xml:space="preserve">KflI</text>
<text transform="translate(776.19,341) scale(1.1982,1)" font-size="10" font-weight="bold" fill="#000" xml:space="preserve">- PpuMI</text>
<text transform="translate(829,341) scale(1.1679,1)" font-size="9.1" fill="#111" xml:space="preserve">(1709)</text>
<text transform="translate(751,359) scale(1.2309,1)" font-size="10" font-weight="bold" fill="#000" xml:space="preserve">HpaI</text>
<text transform="translate(790,359) scale(1.1679,1)" font-size="9.1" fill="#111" xml:space="preserve">(1803)</text>
<text transform="translate(756,384) scale(1.1516,1)" font-size="10" font-weight="bold" fill="#000" xml:space="preserve">BspDI</text>
<text transform="translate(800.27,384) scale(1.2307,1)" font-size="10" font-weight="bold" fill="#000" xml:space="preserve">- ClaI</text>
<text transform="translate(841,384) scale(1.1679,1)" font-size="9.1" fill="#111" xml:space="preserve">(1925)</text>
<text transform="translate(762,472) scale(1.1630,1)" font-size="10" font-weight="bold" fill="#000" xml:space="preserve">SnaBI</text>
<text transform="translate(808,472) scale(1.1679,1)" font-size="9.1" fill="#111" xml:space="preserve">(2378)</text>
<text transform="translate(750,538) scale(1.2395,1)" font-size="10" font-weight="bold" fill="#000" xml:space="preserve">NheI</text>
<text transform="translate(789,538) scale(1.1679,1)" font-size="9.1" fill="#111" xml:space="preserve">(2683)</text>
<text transform="translate(746,550) scale(1.2314,1)" font-size="10" font-weight="bold" fill="#000" xml:space="preserve">BmtI</text>
<text transform="translate(787,550) scale(1.1679,1)" font-size="9.1" fill="#111" xml:space="preserve">(2687)</text>
<text transform="translate(742,562) scale(1.1671,1)" font-size="10" font-weight="bold" fill="#000" xml:space="preserve">MscI</text>
<text transform="translate(779,562) scale(1.1679,1)" font-size="9.1" fill="#111" xml:space="preserve">(2722)</text>
<text transform="translate(725,598) scale(1.2207,1)" font-size="10" font-weight="bold" fill="#000" xml:space="preserve">SbfI</text>
<text transform="translate(759,598) scale(1.1679,1)" font-size="9.1" fill="#111" xml:space="preserve">(3047)</text>
<text transform="translate(704,634) scale(1.1740,1)" font-size="10" font-weight="bold" fill="#000" xml:space="preserve">SgrAI</text>
<text transform="translate(748,634) scale(1.1679,1)" font-size="9.1" fill="#111" xml:space="preserve">(3373)</text>
<text transform="translate(695,646) scale(1.1996,1)" font-size="10" font-weight="bold" fill="#000" xml:space="preserve">XcmI</text>
<text transform="translate(737,646) scale(1.1679,1)" font-size="9.1" fill="#111" xml:space="preserve">(3378)</text>
<text transform="translate(686,658) scale(1.1431,1)" font-size="10" font-weight="bold" fill="#000" xml:space="preserve">BsrGI</text>
<text transform="translate(730,658) scale(1.1679,1)" font-size="9.1" fill="#111" xml:space="preserve">(3392)</text>
<text transform="translate(676,670) scale(1.1935,1)" font-size="10" font-weight="bold" fill="#000" xml:space="preserve">PaeR7I</text>
<text transform="translate(726.81,670) scale(1.2332,1)" font-size="10" font-weight="bold" fill="#000" xml:space="preserve">- XhoI</text>
<text transform="translate(775,670) scale(1.1679,1)" font-size="9.1" fill="#111" xml:space="preserve">(3413)</text>
<text transform="translate(665,682) scale(1.1839,1)" font-size="10" font-weight="bold" fill="#000" xml:space="preserve">BstXI</text>
<text transform="translate(709,682) scale(1.1679,1)" font-size="9.1" fill="#111" xml:space="preserve">(3436)</text>
<text transform="translate(652,694) scale(1.2650,1)" font-size="10" font-weight="bold" fill="#000" xml:space="preserve">NotI</text>
<text transform="translate(688,694) scale(1.1679,1)" font-size="9.1" fill="#111" xml:space="preserve">(3441)</text>
<text transform="translate(624,721) scale(1.1935,1)" font-size="10" font-weight="bold" fill="#000" xml:space="preserve">Bsu36I</text>
<text transform="translate(676,721) scale(1.1679,1)" font-size="9.1" fill="#111" xml:space="preserve">(3742)</text>
<text transform="translate(592,740) scale(1.1500,1)" font-size="10" font-weight="bold" fill="#000" xml:space="preserve">PshAI</text>
<text transform="translate(637,740) scale(1.1679,1)" font-size="9.1" fill="#111" xml:space="preserve">(4027)</text>
<text transform="translate(558,758) scale(1.1247,1)" font-size="10" font-weight="bold" fill="#000" xml:space="preserve">EcoRI</text>
<text transform="translate(603,758) scale(1.1679,1)" font-size="9.1" fill="#111" xml:space="preserve">(4243)</text>
<text transform="translate(529,770) scale(1.1708,1)" font-size="10" font-weight="bold" fill="#000" xml:space="preserve">BfuAI</text>
<text transform="translate(571.21,770) scale(1.1739,1)" font-size="10" font-weight="bold" fill="#000" xml:space="preserve">- BspMI</text>
<text transform="translate(626,770) scale(1.1679,1)" font-size="9.1" fill="#111" xml:space="preserve">(4313)</text>
<text transform="translate(450.25,770) scale(1.2933,1)" font-size="10" font-weight="bold" fill="#000" xml:space="preserve">RsrII</text>
<text transform="translate(413,770) scale(1.1679,1)" font-size="9.1" fill="#111" xml:space="preserve">(4408)</text>
<text transform="translate(217.98,659) scale(1.1792,1)" font-size="10" font-weight="bold" fill="#000" xml:space="preserve">Acc65I</text>
<text transform="translate(181,659) scale(1.1679,1)" font-size="9.1" fill="#111" xml:space="preserve">(5623)</text>
<text transform="translate(219.54,647) scale(1.1910,1)" font-size="10" font-weight="bold" fill="#000" xml:space="preserve">KpnI</text>
<text transform="translate(182.6,647) scale(1.1679,1)" font-size="9.1" fill="#111" xml:space="preserve">(5627)</text>
<text transform="translate(185.41,579) scale(1.2595,1)" font-size="10" font-weight="bold" fill="#000" xml:space="preserve">SfiI</text>
<text transform="translate(149,579) scale(1.1679,1)" font-size="9.1" fill="#111" xml:space="preserve">(6247)</text>
<text transform="translate(155.57,437) scale(1.2046,1)" font-size="10" font-weight="bold" fill="#000" xml:space="preserve">PciI</text>
<text transform="translate(118,437) scale(1.1679,1)" font-size="9.1" fill="#111" xml:space="preserve">(6669)</text>
<text transform="translate(305.28,131) scale(1.1703,1)" font-size="10" font-weight="bold" fill="#000" xml:space="preserve">SspI</text>
<text transform="translate(268,131) scale(1.1679,1)" font-size="9.1" fill="#111" xml:space="preserve">(8366)</text>
<text transform="translate(344,66) scale(1.1017,1)" font-size="10" fill="#a83cf0" xml:space="preserve">M13/pUC Forward</text>
<text transform="translate(271,66) scale(1.1667,1)" font-size="9.1" fill="#a83cf0" xml:space="preserve">(8913 .. 8935)</text>
<text transform="translate(467.6,54) scale(1.0813,1)" font-size="10" fill="#a83cf0" xml:space="preserve">M13 Forward</text>
<text transform="translate(543,54) scale(1.1667,1)" font-size="9.1" fill="#a83cf0" xml:space="preserve">(8927 .. 8944)</text>
<text transform="translate(760,490) scale(1.0286,1)" font-size="10" fill="#a83cf0" xml:space="preserve">CMV-F</text>
<text transform="translate(807,490) scale(1.1667,1)" font-size="9.1" fill="#a83cf0" xml:space="preserve">(2557 .. 2577)</text>
<text transform="translate(757.6,502) scale(1.1139,1)" font-size="10" fill="#a83cf0" xml:space="preserve">T7</text>
<text transform="translate(782,502) scale(1.1667,1)" font-size="9.1" fill="#a83cf0" xml:space="preserve">(2651 .. 2670)</text>
<text transform="translate(734,580) scale(1.1045,1)" font-size="10" fill="#a83cf0" xml:space="preserve">mCherry-R</text>
<text transform="translate(800,580) scale(1.1667,1)" font-size="9.1" fill="#a83cf0" xml:space="preserve">(2837 .. 2855)</text>
<text transform="translate(715,616) scale(1.1093,1)" font-size="10" fill="#a83cf0" xml:space="preserve">mCherry-F</text>
<text transform="translate(780,616) scale(1.1667,1)" font-size="9.1" fill="#a83cf0" xml:space="preserve">(3105 .. 3124)</text>
<text transform="translate(292.4,729) scale(0.9765,1)" font-size="10" fill="#a83cf0" xml:space="preserve">WPRE-R</text>
<text transform="translate(219,729) scale(1.1667,1)" font-size="9.1" fill="#a83cf0" xml:space="preserve">(5085 .. 5105)</text>
<text transform="translate(167.1,609) scale(1.0561,1)" font-size="10" fill="#a83cf0" xml:space="preserve">SV40pA-R</text>
<text transform="translate(94,609) scale(1.1667,1)" font-size="9.1" fill="#a83cf0" xml:space="preserve">(6036 .. 6055)</text>
<text transform="translate(171.9,597) scale(1.0932,1)" font-size="10" fill="#a83cf0" xml:space="preserve">EBV-rev</text>
<text transform="translate(99,597) scale(1.1667,1)" font-size="9.1" fill="#a83cf0" xml:space="preserve">(6090 .. 6109)</text>
<text transform="translate(126.5,543) scale(1.0678,1)" font-size="10" fill="#a83cf0" xml:space="preserve">M13 Reverse</text>
<text transform="translate(53,543) scale(1.1667,1)" font-size="9.1" fill="#a83cf0" xml:space="preserve">(6328 .. 6344)</text>
<text transform="translate(92,507) scale(1.0820,1)" font-size="10" fill="#a83cf0" xml:space="preserve">M13/pUC Reverse</text>
<text transform="translate(18,507) scale(1.1667,1)" font-size="9.1" fill="#a83cf0" xml:space="preserve">(6341 .. 6363)</text>
<text transform="translate(144.7,455) scale(1.0896,1)" font-size="10" fill="#a83cf0" xml:space="preserve">L4440</text>
<text transform="translate(71,455) scale(1.1667,1)" font-size="9.1" fill="#a83cf0" xml:space="preserve">(6559 .. 6576)</text>
<text transform="translate(251,176) scale(1.0927,1)" font-size="10" fill="#a83cf0" xml:space="preserve">Amp-R</text>
<text transform="translate(178,176) scale(1.1808,1)" font-size="9.1" fill="#a83cf0" xml:space="preserve">(8112 .. 8131)</text>
<text transform="translate(309,111) scale(1.0547,1)" font-size="10" fill="#a83cf0" xml:space="preserve">pBRforEco</text>
<text transform="translate(236,111) scale(1.1667,1)" font-size="9.1" fill="#a83cf0" xml:space="preserve">(8522 .. 8540)</text>
<text transform="translate(337,98) scale(1.0831,1)" font-size="10" fill="#a83cf0" xml:space="preserve">pGEX 3'</text>
<text transform="translate(264,98) scale(1.1667,1)" font-size="9.1" fill="#a83cf0" xml:space="preserve">(8578 .. 8600)</text>
<text transform="translate(339,84) scale(1.1132,1)" font-size="10" fill="#a83cf0" xml:space="preserve">pRS-marker</text>
<text transform="translate(266,84) scale(1.1667,1)" font-size="9.1" fill="#a83cf0" xml:space="preserve">(8700 .. 8719)</text>
<rect x="508.5" y="62.4" width="49" height="11.7" rx="3.5" ry="3.5" fill="#dfb2ff" stroke="#9a30f5" stroke-width="1"/>
<text transform="translate(512.34,72.15) scale(1.0934,1)" font-size="10" fill="#000" xml:space="preserve">M13 fwd</text>
<rect x="158.5" y="551.4" width="46.5" height="11.7" rx="3.5" ry="3.5" fill="#dfb2ff" stroke="#9a30f5" stroke-width="1"/>
<text transform="translate(161.95,561.15) scale(1.0961,1)" font-size="10" fill="#000" xml:space="preserve">M13 rev</text>
<rect x="760.5" y="434.4" width="78" height="11.7" rx="3.5" ry="3.5" fill="#fff" stroke="#8a8a8a" stroke-width="1"/>
<text transform="translate(764.5,444.15) scale(1.0495,1)" font-size="10" fill="#000" xml:space="preserve">CMV enhancer</text>
<rect x="752.5" y="510.9" width="68" height="11.7" rx="3.5" ry="3.5" fill="#fff" stroke="#8a8a8a" stroke-width="1"/>
<text transform="translate(756.15,520.65) scale(1.1145,1)" font-size="10" fill="#000" xml:space="preserve">T7 promoter</text>
<rect x="117.5" y="479.4" width="68" height="11.7" rx="3.5" ry="3.5" fill="#fff" stroke="#8a8a8a" stroke-width="1"/>
<text transform="translate(120.45,489.15) scale(1.1173,1)" font-size="10" fill="#000" xml:space="preserve">lac promoter</text>
<rect x="96.5" y="463.4" width="88" height="11.7" rx="3.5" ry="3.5" fill="#a9d2de" stroke="#3d8ea6" stroke-width="1"/>
<text transform="translate(100.94,473.15) scale(1.0728,1)" font-size="10" fill="#000" xml:space="preserve">CAP binding site</text>
<rect x="128.5" y="515.4" width="64" height="11.7" rx="3.5" ry="3.5" fill="#a9d2de" stroke="#3d8ea6" stroke-width="1"/>
<text transform="translate(131.25,525.15) scale(1.1076,1)" font-size="10" fill="#000" xml:space="preserve">lac operator</text>
<text transform="translate(376,442.5) scale(1.1385,1)" font-size="11.2" font-weight="bold" fill="#000" xml:space="preserve">pCDH-CMV-mCherry-EF1 Hygro</text>
<text transform="translate(451.5,455) scale(1.1342,1)" font-size="10" fill="#111" xml:space="preserve">8953 bp</text>
<text transform="translate(796,9.9) scale(0.9764,1)" font-size="7.6" fill="#b9b9b9" xml:space="preserve">Created by</text>
<path d="M836,2 L842.2,2 L842.2,5.8 L840.1,7.6 L838.7,12.6 L837.5,12.6 L836,7 Z" fill="#8ccfff"/>
<path d="M836,2 L838.1,2 L838.1,11.5 L837.5,12.6 L836,7 Z" fill="#b5e1ff"/>
<text transform="translate(844.6,10.7) scale(0.9672,1)" font-size="9.6" fill="#8d949c" xml:space="preserve">SnapGene</text>
</g>
</svg>
</body></html>
